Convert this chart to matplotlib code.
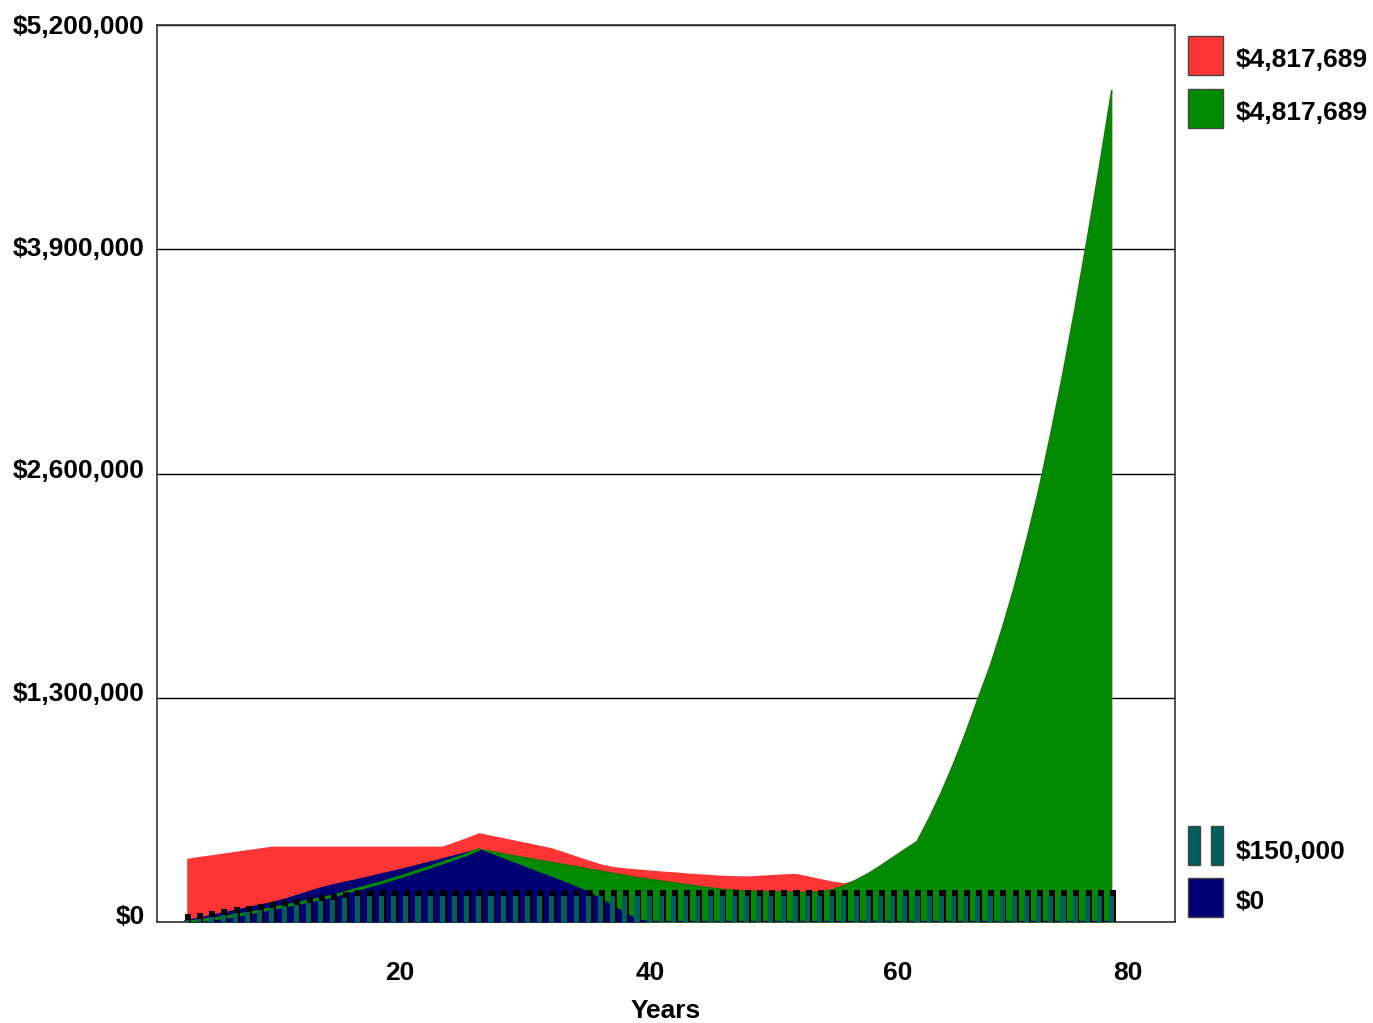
import matplotlib
matplotlib.use("Agg")
import matplotlib.pyplot as plt
import matplotlib.transforms as mtransforms
from matplotlib.patches import Rectangle
from matplotlib.ticker import FuncFormatter

plt.rcParams['font.family'] = ['Liberation Sans', 'DejaVu Sans']
plt.rcParams['font.weight'] = 'bold'

# data: one point per year
years = list(range(3, 80))

total_red = [369000, 380000, 390000, 400000, 410000, 420000, 430000, 440000,
             440000, 440000, 440000, 440000, 440000, 440000, 440000, 440000,
             440000, 440000, 440000, 440000, 440000, 440000,
             465000, 490000, 518000, 503000, 489000, 474000, 460000, 445000,
             430000, 407000, 383000, 360000, 337000, 322000, 314000, 308000,
             302000, 296000, 291000, 285000, 280000, 276000, 271000, 269000,
             267000, 271000, 275000, 279000, 282000, 268000, 253000, 238000,
             228000,
             243000, 280000, 325000, 372000, 420000, 465000, 600000, 750000,
             915000, 1095000, 1290000, 1480000, 1700000, 1940000, 2210000,
             2500000, 2830000, 3180000, 3560000, 3960000, 4380000, 4817689]

balance_green = [0, 8000, 16000, 26000, 37000, 50000, 63000, 78000,
                 92000, 106000, 120000, 135000, 150000, 170000, 190000, 209000,
                 228000, 250000, 272000, 295000, 318000, 342000,
                 366000, 390000, 420000, 408000, 395000, 382000, 370000, 357000,
                 345000, 332000, 320000, 307000, 295000, 282000, 270000, 257000,
                 247000, 237000, 227000, 217000, 207000, 197000, 189000, 184000,
                 180000, 177000, 175000, 173000, 172000, 171000, 175000, 185000,
                 210000,
                 243000, 280000, 325000, 372000, 420000, 465000, 600000, 750000,
                 915000, 1095000, 1290000, 1480000, 1700000, 1940000, 2210000,
                 2500000, 2830000, 3180000, 3560000, 3960000, 4380000, 4817689]

debt_navy = [5000, 20000, 35000, 50000, 65000, 80000, 95000, 110000,
             128000, 150000, 172000, 194000, 212000, 228000, 243000, 259000,
             276000, 292000, 309000, 327000, 345000, 363000,
             381000, 399000, 417000, 390000, 363000, 336000, 309000, 282000,
             255000, 228000, 200000, 170000, 130000, 90000, 50000, 12000,
             0, 0, 0, 0, 0, 0, 0, 0, 0, 0, 0, 0, 0, 0, 0, 0, 0,
             0, 0, 0, 0, 0, 0, 0, 0, 0, 0, 0, 0, 0, 0, 0, 0, 0, 0, 0, 0, 0, 0]

contrib_bars = [10000, 20000, 30000, 40000, 50000, 60000, 70000, 80000,
                90000, 100000, 110000, 120000, 130000, 140000] + [150000] * 63

legend_labels = ["$4,817,689", "$4,817,689", "$150,000", "$0"]
y_ticks = [0, 1300000, 2600000, 3900000, 5200000]

RED = "#FF3535"
GREEN = "#038A03"
NAVY = "#000074"
TEAL = "#005F5C"

fig = plt.figure(figsize=(13.73, 10.23), dpi=100)
ax = fig.add_axes([157 / 1373, 1 - 922 / 1023, (1175 - 157) / 1373, (922 - 25) / 1023])

ax.fill_between(years, 0, total_red, color=RED, lw=0, zorder=2)
ax.fill_between(years, 0, balance_green, color=GREEN, lw=0, zorder=3)
ax.plot(years, balance_green, color="#0A7A05", lw=1.2, zorder=3)
ax.fill_between(years, 0, debt_navy, color=NAVY, lw=0, zorder=4)
ax.plot(years, debt_navy, color=NAVY, lw=1.6, zorder=4)
ax.plot(years[:25], balance_green[:25], color=GREEN, lw=2.2, zorder=5)

# 3d-looking bars: black shadow behind, teal in front
shadow_x = [x + 0.1 for x in years]
shadow_h = [v + 35000 for v in contrib_bars]
ax.bar(shadow_x, shadow_h, width=0.5, color="black", lw=0, zorder=6)
ax.bar(years, contrib_bars, width=0.42, color=TEAL, lw=0, zorder=7)

ax.set_xlim(0.56, 84.2)
ax.set_ylim(0, 5200000)
ax.set_yticks(y_ticks)
ax.yaxis.set_major_formatter(FuncFormatter(lambda v, p: "${:,.0f}".format(v)))
ax.set_xticks([20.53, 41.07, 61.45, 80.35])
ax.set_xticklabels(["20", "40", "60", "80"])
ax.tick_params(axis='both', length=0, labelsize=19)
ax.tick_params(axis='y', pad=9)
ax.tick_params(axis='x', pad=28)
ax.grid(axis='y', color="black", lw=1, zorder=1)
ax.set_axisbelow(True)
for s in ax.spines.values():
    s.set_color("#333333")
    s.set_linewidth(1.2)

# the y labels sit a few pixels above their gridlines
for lab, dy in zip(ax.get_yticklabels(), [7, 6, 5, 3, 1]):
    lab.set_transform(lab.get_transform() + mtransforms.ScaledTranslation(0, dy / 100, fig.dpi_scale_trans))

fig.text(666 / 1373, 1 - 1011 / 1023, "Years", ha="center", va="center", fontsize=19, fontweight="bold")


# legend drawn by hand in figure pixels
def fig_rect(x0, y0, x1, y1, color):
    r = Rectangle((x0 / 1373, 1 - y1 / 1023), (x1 - x0) / 1373, (y1 - y0) / 1023,
                  transform=fig.transFigure, facecolor=color, edgecolor="#444444", lw=1)
    fig.add_artist(r)


fig_rect(1188, 36, 1223, 75, RED)
fig_rect(1188, 89, 1223, 128, GREEN)
fig_rect(1188, 826, 1200, 865, TEAL)
fig_rect(1211, 826, 1223, 865, TEAL)
fig_rect(1188, 878, 1223, 917, NAVY)

for yy, lab in zip([60, 113, 852, 902], legend_labels):
    fig.text(1236 / 1373, 1 - yy / 1023, lab, ha="left", va="center", fontsize=19, fontweight="bold")

fig.savefig("out.png", dpi=100)
